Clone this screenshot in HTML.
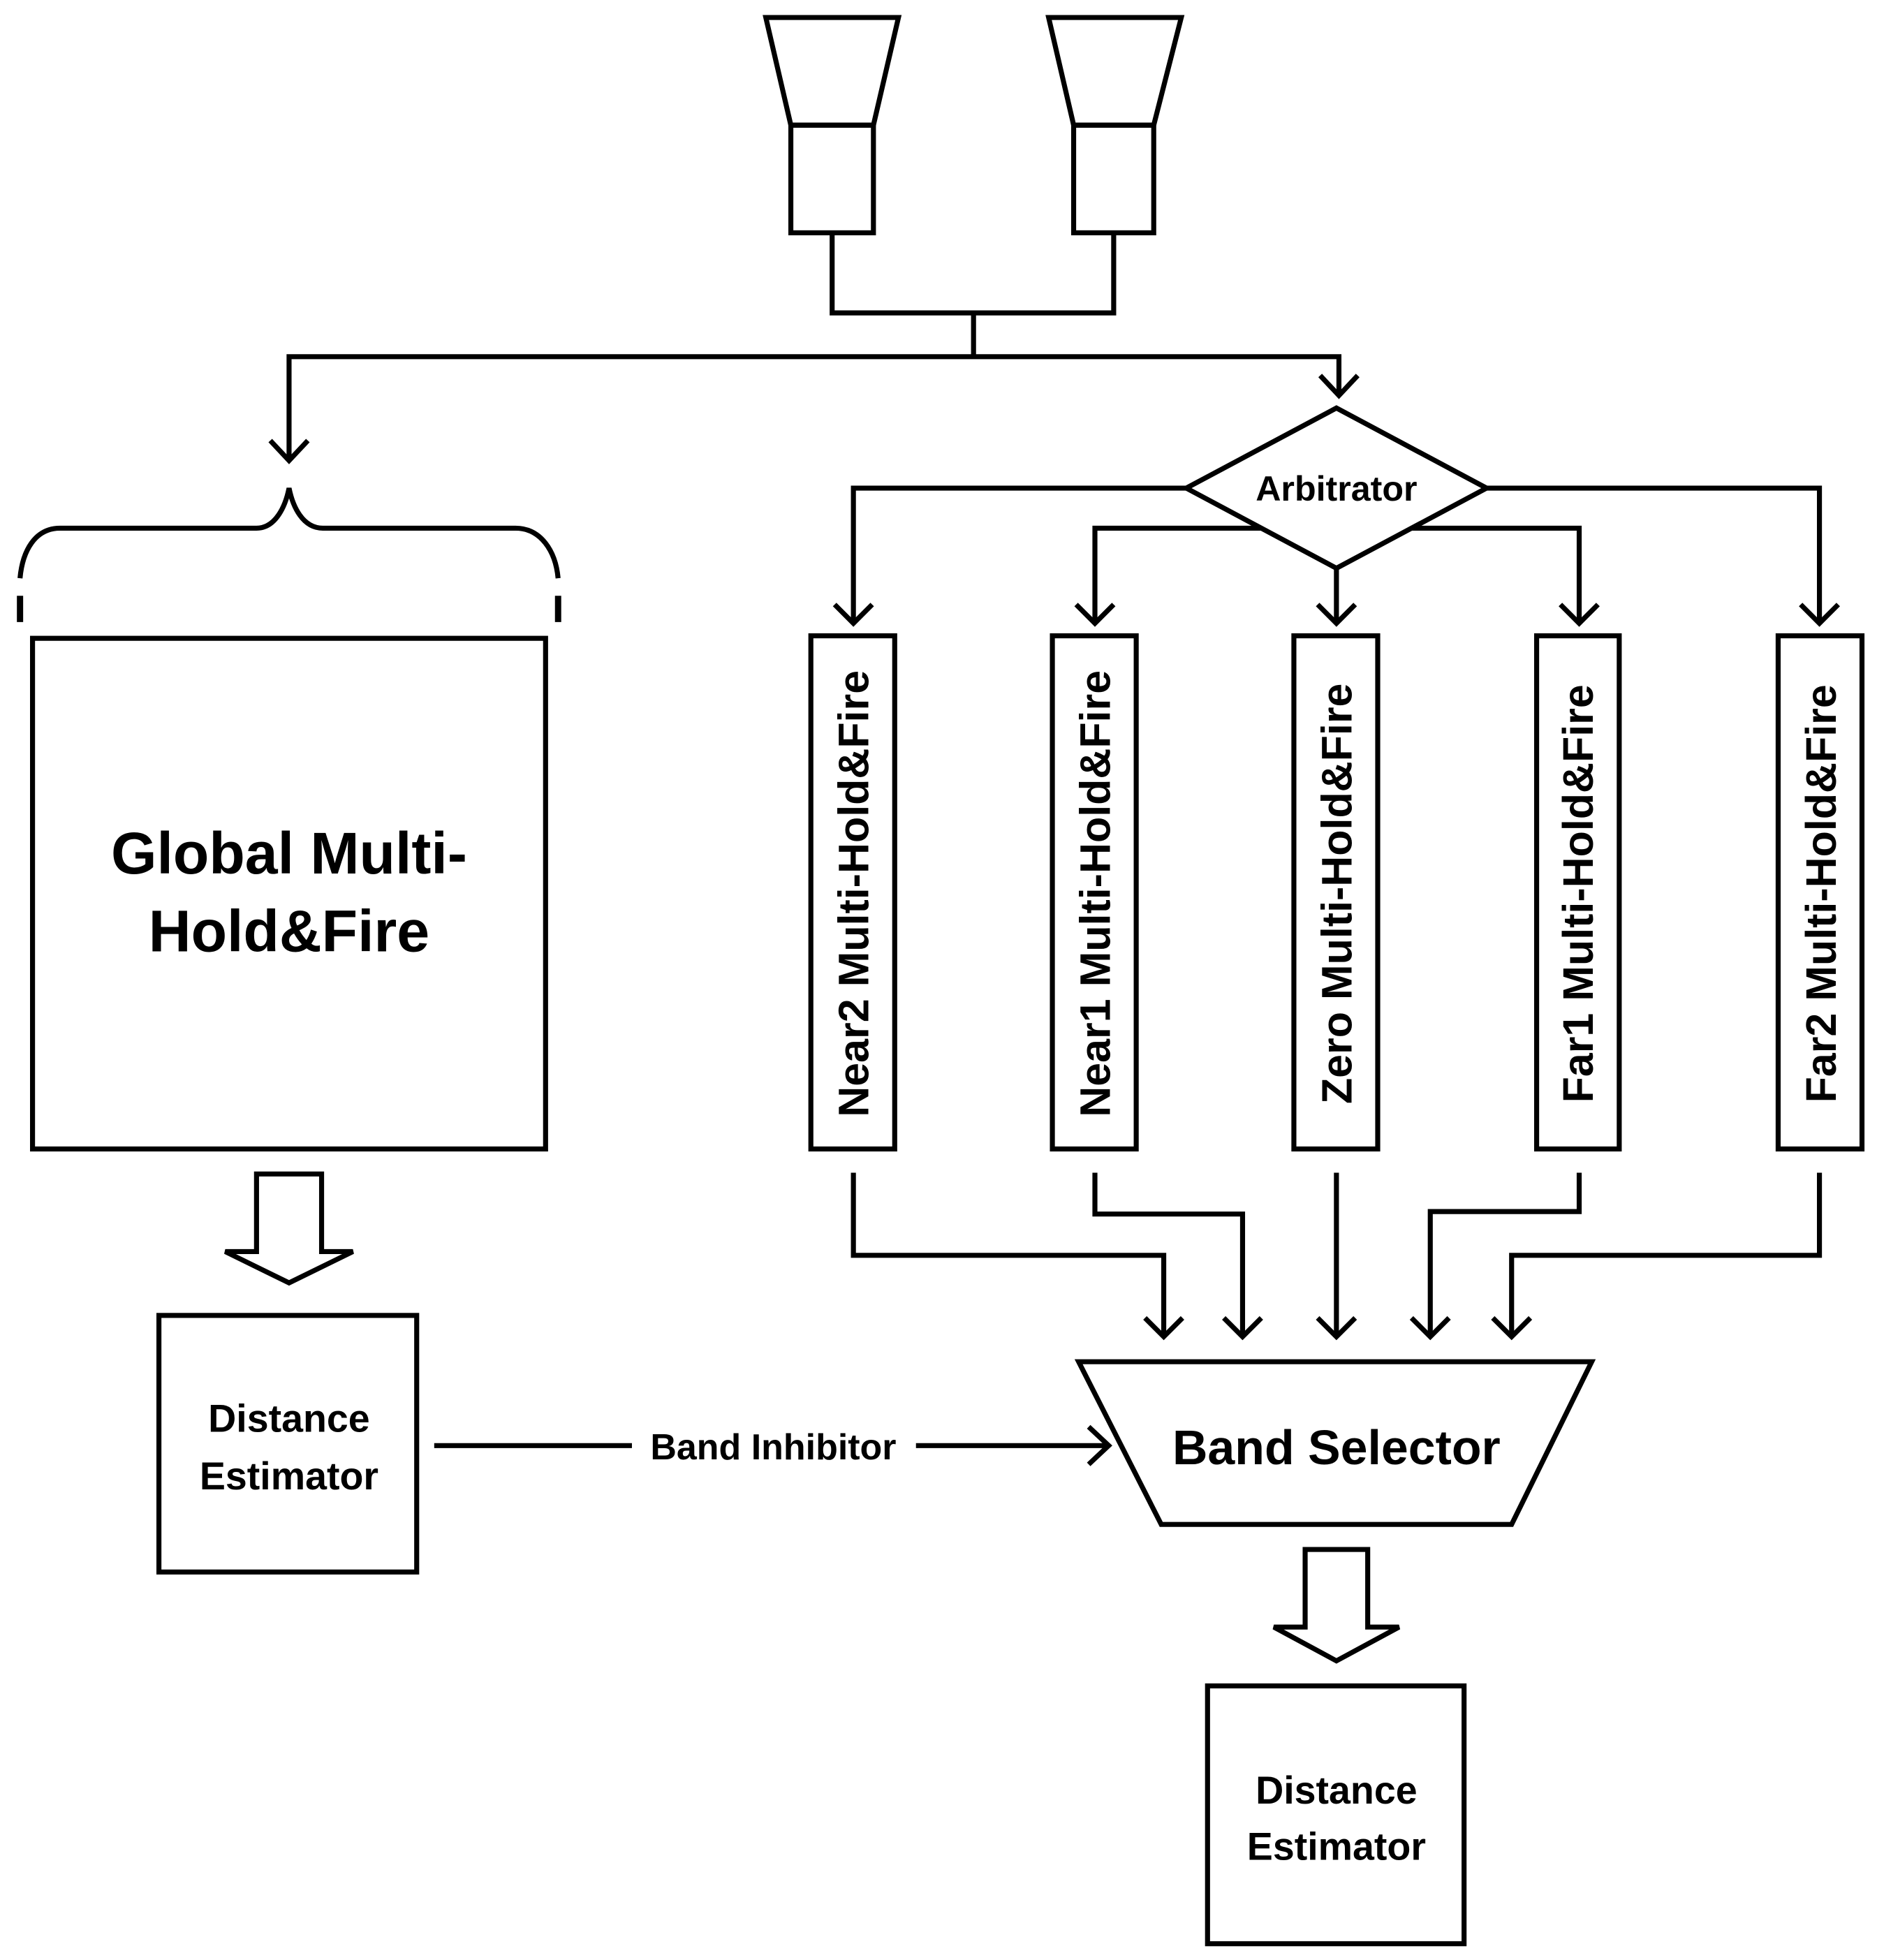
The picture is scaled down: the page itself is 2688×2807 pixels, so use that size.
<!DOCTYPE html>
<html><head><style>html,body{margin:0;padding:0;background:#fff}svg{display:block}</style></head>
<body>
<svg width="2688" height="2807" viewBox="0 0 1500 1566" preserveAspectRatio="none" xmlns="http://www.w3.org/2000/svg">
<g fill="none" stroke="#000" stroke-width="4">
<!-- speakers -->
<path d="M612,14 L718,14 L698,100 L632,100 Z"/><rect x="632" y="100" width="66" height="86"/>
<path d="M838,14 L944,14 L922,100 L858,100 Z"/><rect x="858" y="100" width="64" height="86"/>
<path d="M665,186 V250 H890 V186 M778,250 V285 M231,368 V285 H1070 V316"/>
<path d="M216,352 L231,368 L246,352 M1055,300 L1070,316 L1085,300"/>
<!-- brace -->
<path d="M16,462 C18,440 28,422 48,422 L205,422 C220,422 228,405 231,390 C234,405 242,422 258,422 L412,422 C432,422 444,440 446,462"/>
<path d="M16,476 V497 M446,476 V497" stroke-width="5"/>
<rect x="26" y="510" width="410" height="408"/>
<!-- hollow arrow left -->
<path d="M205,938 H257 V1000 H282 L231,1025 L180,1000 H205 Z"/>
<rect x="127" y="1051" width="206" height="205"/>
<path d="M347,1155 H505 M732,1155 H886 M870,1140 L886,1155 L870,1170"/>
<!-- diamond -->
<path d="M948,390 L1068,326 L1188,390 L1068,454 Z"/>
<path d="M948,390 H682 V498 M1188,390 H1454 V498 M1008,422 H875 V498 M1128,422 H1262 V498 M1068,454 V498"/>
<path d="M667,483 L682,498 L697,483 M860,483 L875,498 L890,483 M1053,483 L1068,498 L1083,483 M1247,483 L1262,498 L1277,483 M1439,483 L1454,498 L1469,483"/>
<rect x="648" y="508" width="67" height="410"/>
<rect x="841" y="508" width="67" height="410"/>
<rect x="1034" y="508" width="67" height="410"/>
<rect x="1228" y="508" width="66" height="410"/>
<rect x="1421" y="508" width="67" height="410"/>
<path d="M682,937 V1003 H930 V1068 M875,937 V970 H993 V1068 M1068,937 V1068 M1262,937 V968 H1143 V1068 M1454,937 V1003 H1208 V1068"/>
<path d="M915,1053 L930,1068 L945,1053 M978,1053 L993,1068 L1008,1053 M1053,1053 L1068,1068 L1083,1053 M1128,1053 L1143,1068 L1158,1053 M1193,1053 L1208,1068 L1223,1053"/>
<path d="M862,1088 H1272 L1208,1218 H928 Z"/>
<path d="M1043,1238 H1093 V1300 H1118 L1068,1327 L1018,1300 H1043 Z"/>
<rect x="965" y="1347" width="205" height="206"/>
</g>
<g font-family="Liberation Sans, sans-serif" font-weight="bold" fill="#000" text-anchor="middle">
<text x="231" y="698" font-size="47">Global Multi-</text>
<text x="231" y="760" font-size="47">Hold&amp;Fire</text>
<text x="231" y="1144" font-size="31">Distance</text>
<text x="231" y="1190" font-size="31">Estimator</text>
<text x="618" y="1166" font-size="29">Band Inhibitor</text>
<text x="1068" y="400" font-size="28">Arbitrator</text>
<text x="1068" y="1170" font-size="39">Band Selector</text>
<text x="1068" y="1441" font-size="31">Distance</text>
<text x="1068" y="1486" font-size="31">Estimator</text>
<g font-size="34">
<text transform="translate(694,714) rotate(-90)">Near2 Multi-Hold&amp;Fire</text>
<text transform="translate(887,714) rotate(-90)">Near1 Multi-Hold&amp;Fire</text>
<text transform="translate(1080,714) rotate(-90)">Zero Multi-Hold&amp;Fire</text>
<text transform="translate(1273,714) rotate(-90)">Far1 Multi-Hold&amp;Fire</text>
<text transform="translate(1467,714) rotate(-90)">Far2 Multi-Hold&amp;Fire</text>
</g>
</g>
</svg>
</body></html>
